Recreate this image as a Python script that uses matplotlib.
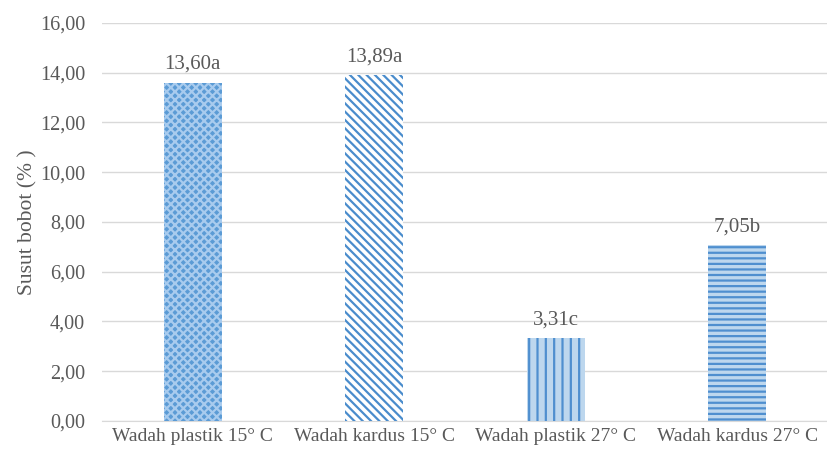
import matplotlib.pyplot as plt
import numpy as np

plt.rcParams['font.family'] = ['Liberation Serif', 'DejaVu Serif']
plt.rcParams['hatch.linewidth'] = 1.6

# data
categories = ['Wadah plastik 15° C', 'Wadah kardus 15° C',
              'Wadah plastik 27° C', 'Wadah kardus 27° C']
values = [13.60, 13.89, 3.31, 7.05]
letters = ['a', 'a', 'c', 'b']

# per-bar fill styles (face, hatch colour, hatch)
faces = ['#5b9bd5', 'white', '#bdd7ee', '#bdd7ee']
hcols = ['#a8cbee', '#4a8ccc', '#4f8fcf', '#4f8fcf']
hatches = ['xxxx', '\\\\\\\\', '||', '---']

txt = '#595959'

fig = plt.figure(figsize=(8.28, 4.66), dpi=100)
ax = fig.add_axes([0.123, 0.097, 0.877, 0.854])

x = np.arange(len(categories))
for i in range(len(categories)):
    ax.bar(x[i], values[i], width=0.32, color=faces[i], edgecolor=hcols[i],
           hatch=hatches[i], linewidth=0, zorder=3)
    lbl = ('%.2f' % values[i]).replace('.', ',') + letters[i]
    ax.text(x[i], values[i] + 0.35, lbl, ha='center', va='bottom',
            fontsize=15, color=txt)

ax.set_ylim(0, 16)
ax.set_xlim(-0.5, 3.5)
yt = np.arange(0, 17, 2)
ax.set_yticks(yt)
ax.set_yticklabels([('%.2f' % v).replace('.', ',') for v in yt])
ax.set_xticks(x)
ax.set_xticklabels(categories)
ax.tick_params(axis='y', length=0, colors=txt, labelsize=14.5, pad=12)
ax.tick_params(axis='x', length=0, colors=txt, labelsize=14, pad=5)
ax.grid(axis='y', color='#d9d9d9', linewidth=1, zorder=0)
for s in ['top', 'right', 'left']:
    ax.spines[s].set_visible(False)
ax.spines['bottom'].set_color('#d9d9d9')
ax.set_ylabel('Susut bobot (% )', color=txt, fontsize=15.5, labelpad=2)

plt.savefig('out.png', dpi=100)
